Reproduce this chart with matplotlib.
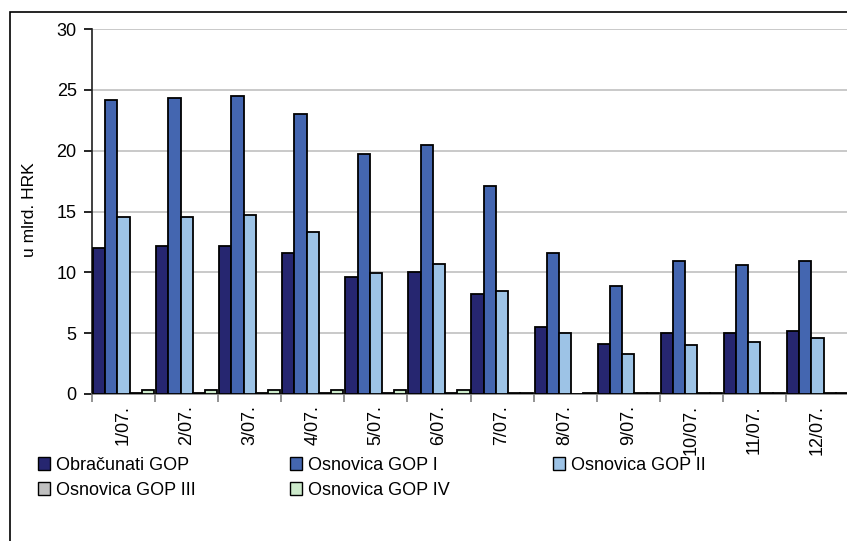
import matplotlib
matplotlib.use("Agg")
import matplotlib.pyplot as plt
from matplotlib.patches import Rectangle, Patch
import numpy as np

plt.rcParams['font.family'] = ['Liberation Sans', 'DejaVu Sans']

mjeseci = ["1/07.", "2/07.", "3/07.", "4/07.", "5/07.", "6/07.",
           "7/07.", "8/07.", "9/07.", "10/07.", "11/07.", "12/07."]
obracunati = [12.0, 12.2, 12.2, 11.6, 9.6, 10.0, 8.2, 5.5, 4.1, 5.0, 5.0, 5.2]
gop1 = [24.2, 24.35, 24.5, 23.0, 19.75, 20.5, 17.1, 11.6, 8.9, 10.9, 10.6, 10.9]
gop2 = [14.55, 14.55, 14.7, 13.35, 9.95, 10.7, 8.5, 5.0, 3.3, 4.0, 4.3, 4.6]
gop3 = [0.1, 0.1, 0.1, 0.1, 0.1, 0.1, 0.1, 0.0, 0.1, 0.1, 0.1, 0.1]
gop4 = [0.3, 0.3, 0.3, 0.3, 0.3, 0.3, 0.1, 0.1, 0.1, 0.1, 0.1, 0.1]

serije = [obracunati, gop1, gop2, gop3, gop4]
nazivi = ["Obračunati GOP", "Osnovica GOP I", "Osnovica GOP II",
          "Osnovica GOP III", "Osnovica GOP IV"]
boje = ["#262670", "#4466b0", "#9dc3e6", "#c0c0c0", "#cdeacb"]

W, H = 847, 541
fig = plt.figure(figsize=(W/100, H/100), dpi=100)

# okvir slike
fig.patches.append(Rectangle((10/W, -0.2), 1.2, 1.2 - 12/H, transform=fig.transFigure,
                             fill=False, edgecolor='black', lw=1.2))

ax = fig.add_axes([92/W, 1 - 394/H, (849-92)/W, (394-29)/H])
x = np.arange(len(mjeseci))
sirina = 0.194
for k, (s, b) in enumerate(zip(serije, boje)):
    ax.bar(x + 0.015 + k*sirina, s, width=sirina, align='edge', color=b,
           edgecolor='black', linewidth=1.3, zorder=3)

ax.set_xlim(0, 12)
ax.set_ylim(0, 30)
ax.set_yticks(range(0, 31, 5))
ax.yaxis.grid(True, color='#c0c0c0', lw=1.2, zorder=0)
ax.set_xticks(range(0, 13))
ax.set_xticklabels([])
ax.set_xticks(x + 0.5, minor=True)
ax.set_xticklabels(mjeseci, minor=True, rotation=90, fontsize=13)
ax.tick_params(axis='x', which='minor', length=0, pad=8)
ax.tick_params(axis='x', which='major', length=6, color='#808080', width=1.2)
ax.tick_params(axis='y', length=6, width=1.2, labelsize=13, pad=5)
for sp in ['top', 'right']:
    ax.spines[sp].set_visible(False)
ax.spines['left'].set_color('#202020')
ax.spines['left'].set_linewidth(1.2)
ax.spines['bottom'].set_color('#808080')
ax.spines['bottom'].set_linewidth(1.2)

fig.text(29/W, 1 - 210/H, "u mlrd. HRK", rotation=90, ha='center', va='center', fontsize=12.5)

# legenda po stupcima
rucke = [Patch(facecolor=b, edgecolor='black', lw=1) for b in boje]
stupci = [([0, 3], 34), ([1, 4], 286), ([2], 549)]
for idx, xp in stupci:
    fig.legend([rucke[i] for i in idx], [nazivi[i] for i in idx],
               loc='upper left', bbox_to_anchor=(xp/W, 1 - 453/H),
               frameon=False, fontsize=13, handlelength=0.7, handleheight=0.7,
               handletextpad=0.3, labelspacing=0.45, borderaxespad=0, borderpad=0.2)

fig.savefig("out.png", dpi=100)
